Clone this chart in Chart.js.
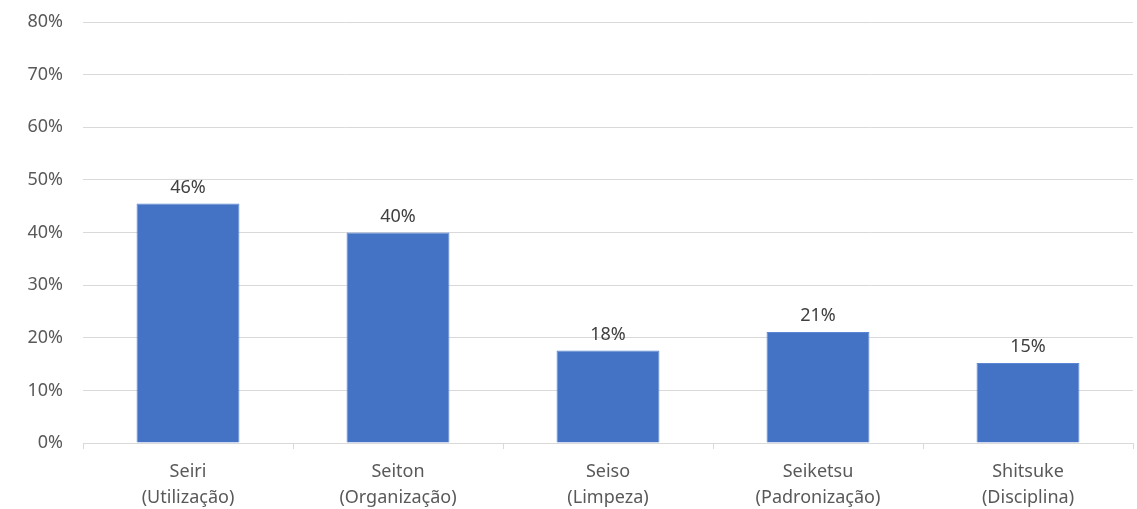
<!DOCTYPE html>
<html>

<head>
  <title>5S</title>
  <script src="https://cdn.jsdelivr.net/npm/chart.js"></script>
  <style>
    html, body { margin: 0; padding: 0; background: #fff; }
    #wrap { position: relative; width: 1137px; height: 509px; }
  </style>
</head>

<body>
  <div id="wrap"><canvas id="chart5s"></canvas></div>

  <script>
    const categories = [
      ['Seiri', '(Utilização)'],
      ['Seiton', '(Organização)'],
      ['Seiso', '(Limpeza)'],
      ['Seiketsu', '(Padronização)'],
      ['Shitsuke', '(Disciplina)']
    ];
    const percentages = [45.5, 40, 17.6, 21.1, 15.2];
    const yTicks = [0, 10, 20, 30, 40, 50, 60, 70, 80];

    const fontFamily = '"Noto Sans", "Open Sans", sans-serif';

    // writes the rounded percentage above each bar
    const barLabels = {
      id: 'barLabels',
      afterDatasetsDraw(chart) {
        const ctx = chart.ctx;
        const meta = chart.getDatasetMeta(0);
        ctx.save();
        ctx.font = '18px ' + fontFamily;
        ctx.fillStyle = '#404040';
        ctx.textAlign = 'center';
        ctx.textBaseline = 'bottom';
        meta.data.forEach((bar, i) => {
          ctx.fillText(Math.round(percentages[i]) + '%', bar.x, bar.y - 7);
        });
        ctx.restore();
      }
    };

    const ctx = document.getElementById('chart5s').getContext('2d');
    new Chart(ctx, {
      type: 'bar',
      data: {
        labels: categories,
        datasets: [{
          data: percentages,
          backgroundColor: '#4472C4',
          borderColor: '#5b86d2',
          borderWidth: 1,
          categoryPercentage: 1,
          barPercentage: 0.49
        }]
      },
      options: {
        responsive: true,
        maintainAspectRatio: false,
        animation: false,
        layout: { padding: { top: 22, right: 4, left: 0, bottom: 0 } },
        plugins: {
          legend: { display: false },
          tooltip: { enabled: false }
        },
        scales: {
          x: {
            grid: {
              display: true,
              offset: true,
              color: '#d9d9d9',
              drawOnChartArea: false,
              tickLength: 6
            },
            border: { color: '#d9d9d9' },
            ticks: {
              color: '#595959',
              font: { family: fontFamily, size: 18, lineHeight: 1.45 },
              padding: 10,
              maxRotation: 0
            },
            afterFit(scale) { scale.height = 66; }
          },
          y: {
            min: 0,
            max: 80,
            afterBuildTicks(scale) {
              scale.ticks = yTicks.map(v => ({ value: v }));
            },
            grid: { color: '#d9d9d9', drawTicks: false },
            border: { display: false },
            ticks: {
              color: '#595959',
              font: { family: fontFamily, size: 18 },
              padding: 20,
              callback: v => v + '%'
            },
            afterFit(scale) {
              scale.width = 83;
              scale.paddingTop = 0;
              scale.paddingBottom = 0;
            }
          }
        }
      },
      plugins: [barLabels]
    });
  </script>
</body>

</html>
